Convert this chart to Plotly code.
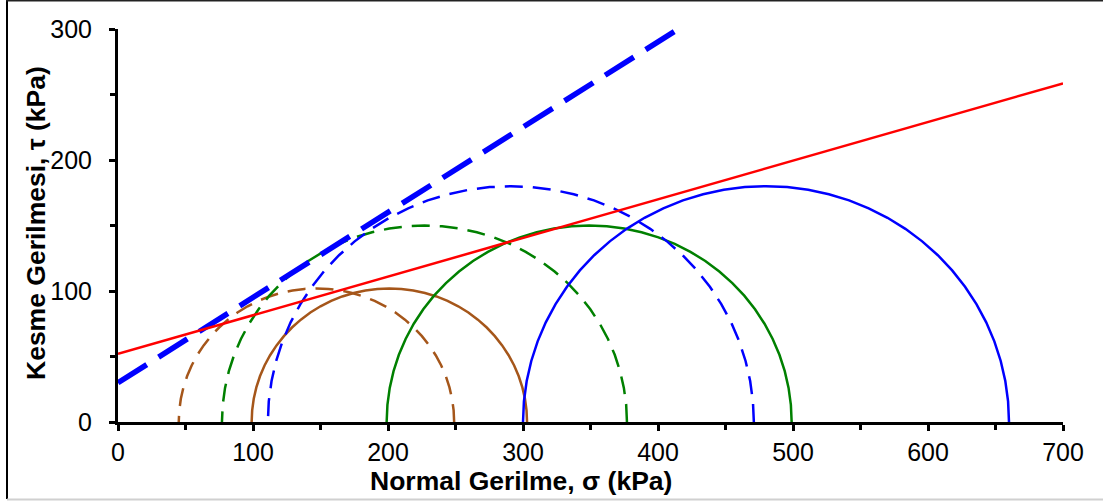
import numpy as np
import plotly.graph_objects as go

# Mohr circles (center sigma, radius) in kPa
circle_names = ["Kahverengi kesikli", "Kahverengi", "Yeşil kesikli", "Yeşil", "Mavi kesikli", "Mavi"]
circle_centers = [147, 201, 227, 349, 291, 480]
circle_radii = [102, 102, 150, 150, 180, 180]
circle_colors = ["#A5561A", "#A5561A", "#008000", "#008000", "#0000FF", "#0000FF"]
circle_dashed = [True, False, True, False, True, False]

# Failure envelopes (end points)
red_sigma = [0, 700]
red_tau = [52, 258.5]
blue_sigma = [0, 412]
blue_tau = [30, 298]

x_ticks = [0, 100, 200, 300, 400, 500, 600, 700]
y_ticks = [0, 100, 200, 300]

fig = go.Figure()

theta = np.radians(np.linspace(0, 180, 37))
for name, c, r, col, d in zip(circle_names, circle_centers, circle_radii, circle_colors, circle_dashed):
    fig.add_trace(go.Scatter(
        x=c + r * np.cos(theta), y=r * np.sin(theta), mode="lines", name=name,
        line=dict(color=col, width=2.5, dash="18px,10px" if d else "solid"),
        showlegend=False, hoverinfo="skip"))

fig.add_trace(go.Scatter(x=blue_sigma, y=blue_tau, mode="lines",
                         line=dict(color="#0000FF", width=5.5, dash="34px,14px"),
                         showlegend=False, hoverinfo="skip"))
fig.add_trace(go.Scatter(x=red_sigma, y=red_tau, mode="lines",
                         line=dict(color="#FF0000", width=2.5),
                         showlegend=False, hoverinfo="skip"))

W, H = 1103, 501
L, R, T, B = 118, 40, 29, 79
pw, ph = W - L - R, H - T - B


def px(xp):
    return (xp - L) / pw


def py(yp):
    return (H - B - yp) / ph


font = "Liberation Sans, Arial, sans-serif"

fig.update_layout(
    width=W, height=H,
    margin=dict(l=L, r=R, t=T, b=B),
    paper_bgcolor="white", plot_bgcolor="white",
    font=dict(family=font, size=25, color="black"),
    xaxis=dict(range=[0, 700], tickvals=x_ticks, ticktext=[str(v) for v in x_ticks],
               showgrid=False, zeroline=False, showline=True, linecolor="black", linewidth=3,
               ticks="outside", ticklen=6, tickwidth=3, tickcolor="black",
               minor=dict(dtick=50, tick0=0, ticks="outside", ticklen=5, tickwidth=2.5, tickcolor="black"),
               tickfont=dict(size=25), fixedrange=True),
    yaxis=dict(range=[0, 300], tickvals=y_ticks, ticktext=[str(v) for v in y_ticks],
               showgrid=False, zeroline=False, showline=True, linecolor="black", linewidth=3,
               ticks="outside", ticklen=6, tickwidth=3, tickcolor="black",
               minor=dict(dtick=50, tick0=0, ticks="outside", ticklen=5, tickwidth=2.5, tickcolor="black"),
               tickfont=dict(size=25), ticklabelstandoff=12, fixedrange=True),
    annotations=[
        dict(text="<b>Normal Gerilme, σ (kPa)</b>", xref="paper", yref="paper",
             x=px(521), y=py(481), xanchor="center", yanchor="middle", showarrow=False,
             font=dict(size=26.5, family=font)),
        dict(text="<b>Kesme Gerilmesi, τ (kPa)</b>", xref="paper", yref="paper",
             x=px(36), y=py(223), xanchor="center", yanchor="middle", showarrow=False,
             textangle=-90, font=dict(size=26.5, family=font)),
    ],
    shapes=[
        dict(type="line", xref="paper", yref="paper", x0=px(7), x1=px(7), y0=py(0), y1=py(499),
             line=dict(color="black", width=2)),
        dict(type="line", xref="paper", yref="paper", x0=px(6), x1=px(1110), y0=py(0.5), y1=py(0.5),
             line=dict(color="#222222", width=2)),
        dict(type="line", xref="paper", yref="paper", x0=px(7), x1=px(1110), y0=py(499.5), y1=py(499.5),
             line=dict(color="#D0D0D0", width=2)),
    ],
)

fig.write_html("out.html", config={"displayModeBar": False},
               post_script="document.body.style.margin='0';document.body.style.padding='0';")
